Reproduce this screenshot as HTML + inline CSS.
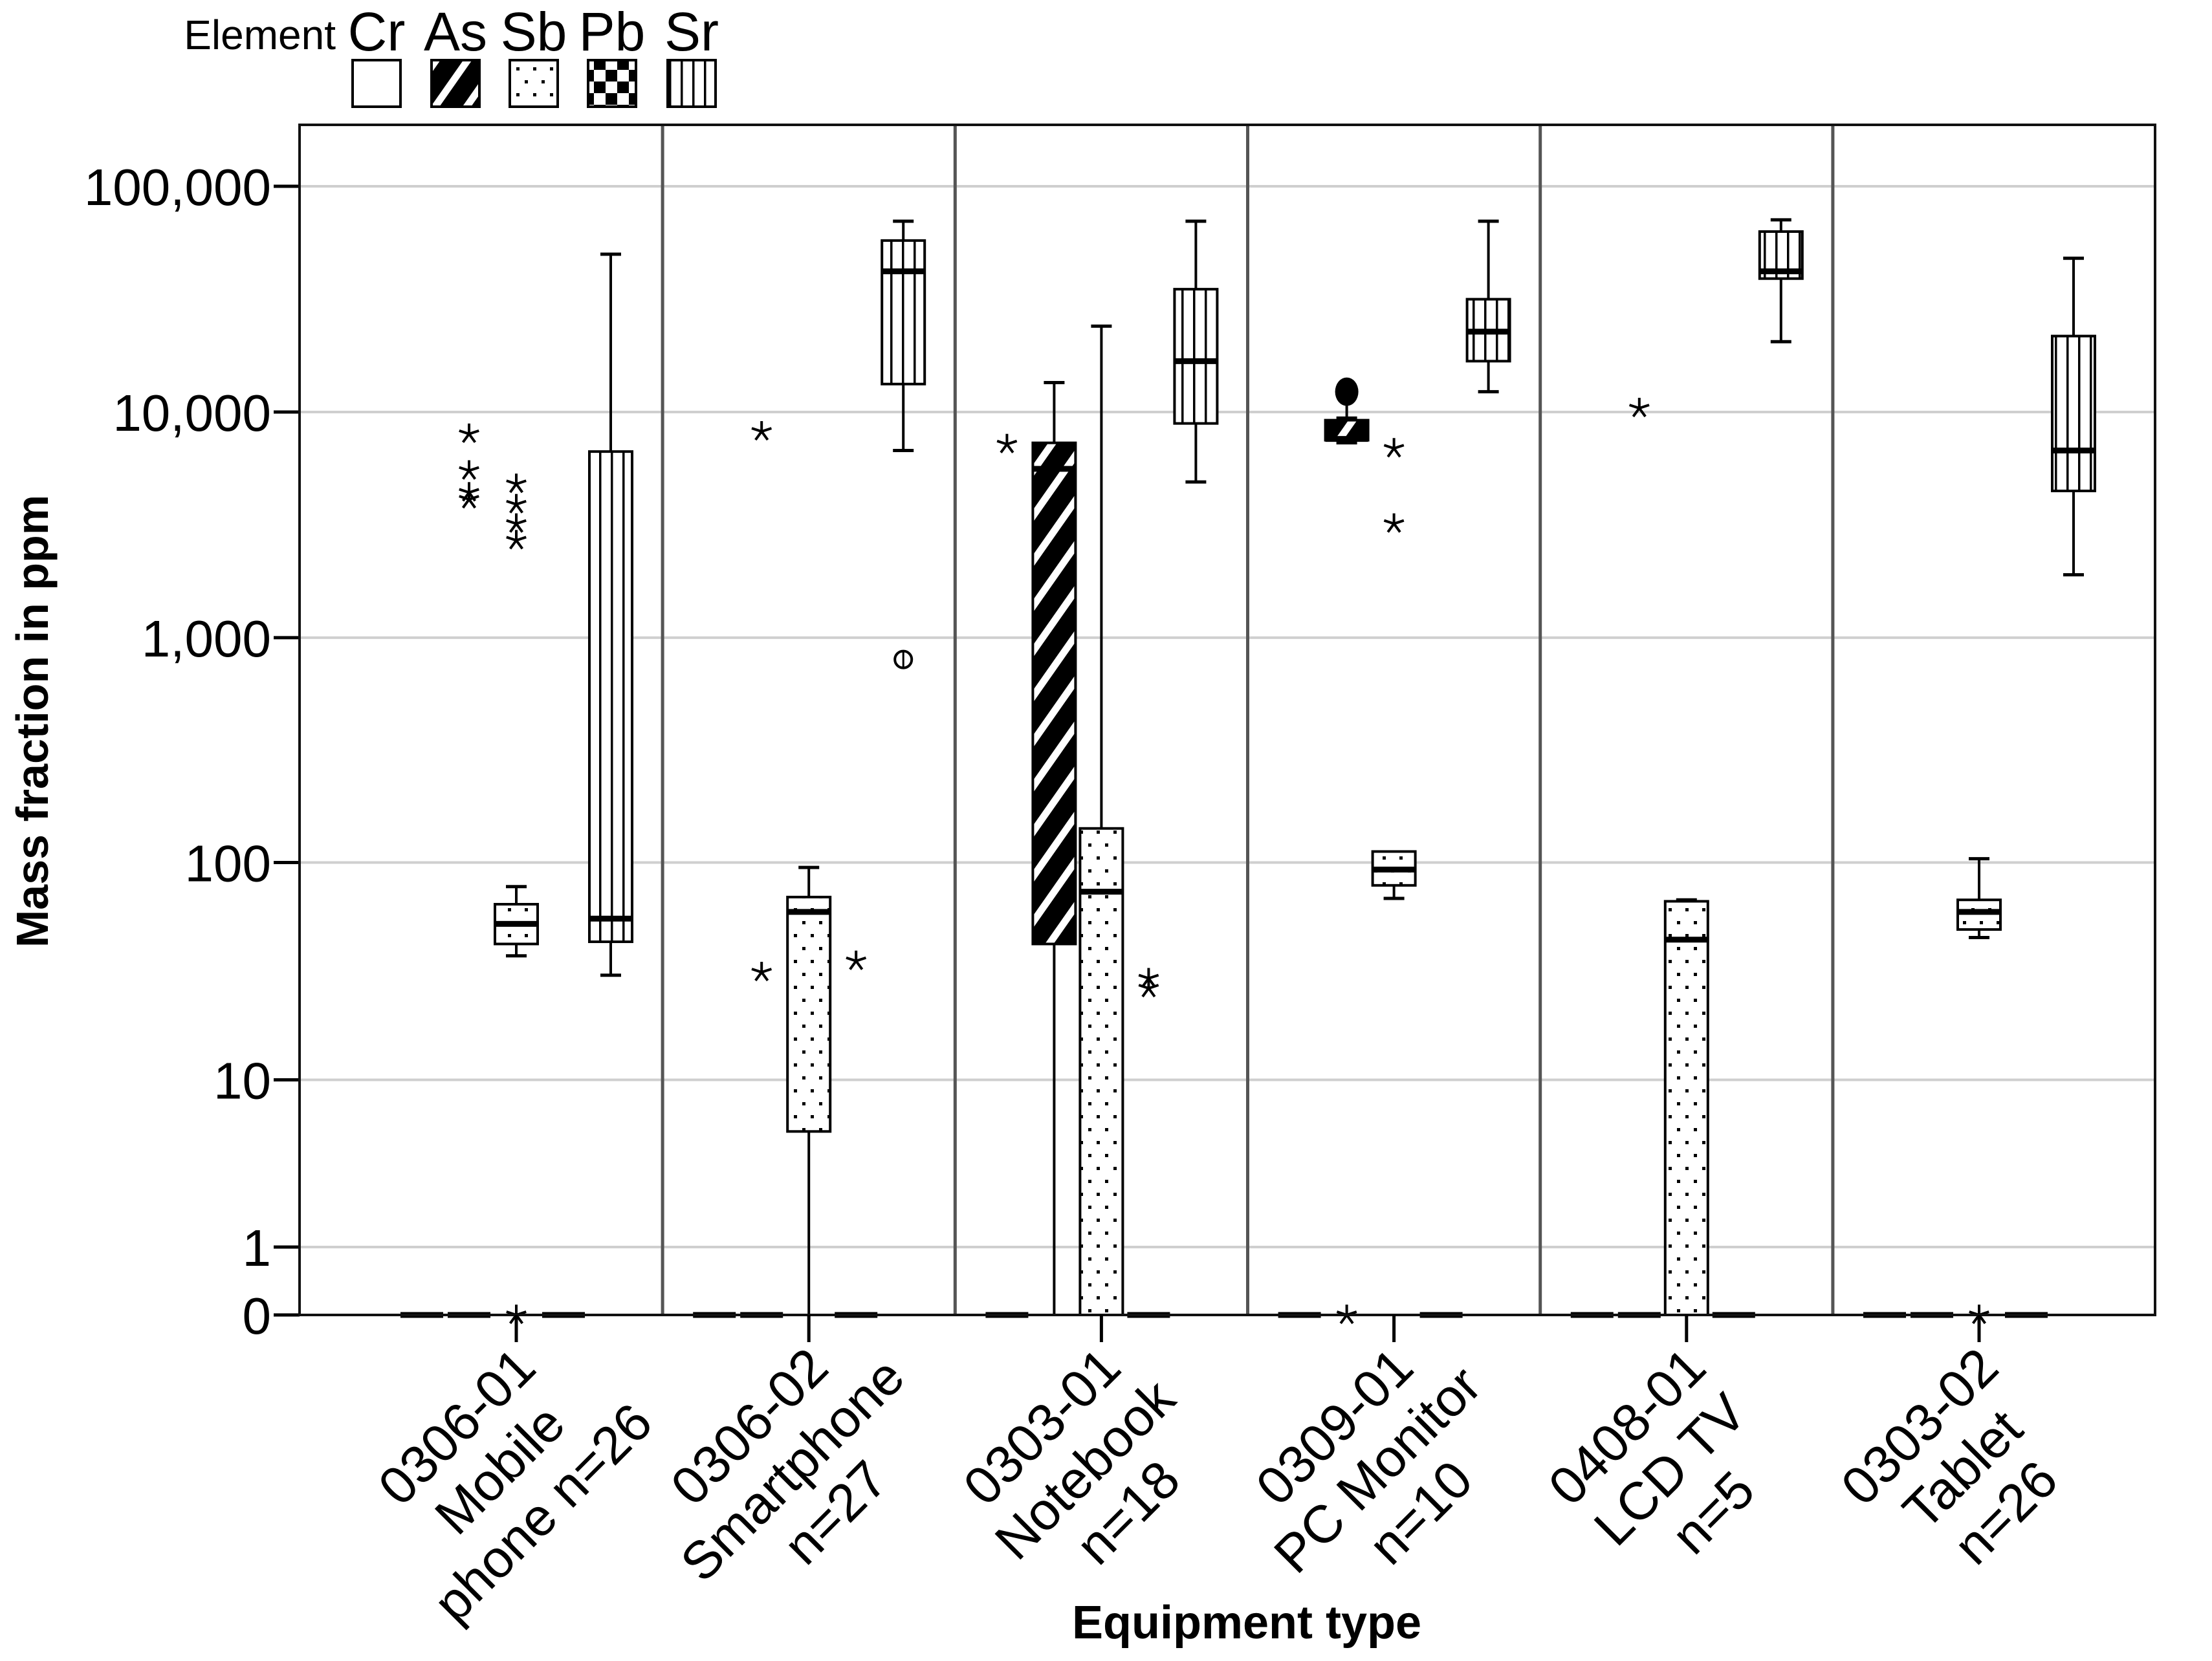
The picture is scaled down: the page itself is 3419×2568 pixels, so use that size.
<!DOCTYPE html>
<html><head><meta charset="utf-8"><style>
html,body{margin:0;padding:0;background:#fff;}
svg{display:block;font-family:"Liberation Sans",Arial,sans-serif;}
</style></head><body>
<svg id="chart" width="3419" height="2568" viewBox="0 0 3419 2568" xmlns="http://www.w3.org/2000/svg">
<defs>
<pattern id="pAs" patternUnits="userSpaceOnUse" width="40" height="40" patternTransform="rotate(35)">
<rect width="40" height="40" fill="#000"/><rect x="0" y="0" width="11" height="40" fill="#fff"/></pattern>
<pattern id="pSb" patternUnits="userSpaceOnUse" width="26" height="40">
<rect width="26" height="40" fill="#fff"/><rect x="5" y="4" width="5" height="5" fill="#000"/><rect x="18" y="24" width="5" height="5" fill="#000"/></pattern>
<pattern id="pPb" patternUnits="userSpaceOnUse" width="36" height="36">
<rect width="36" height="36" fill="#fff"/><rect width="18" height="18" fill="#000"/><rect x="18" y="18" width="18" height="18" fill="#000"/></pattern>
<pattern id="pSr" patternUnits="userSpaceOnUse" width="18" height="20">
<rect width="18" height="20" fill="#fff"/><rect x="8" width="3.5" height="20" fill="#000"/></pattern>
</defs>
<g id="grid"></g>
<g id="dividers"></g>
<g id="marks"></g>
<g id="axes"></g>
<g id="legend"></g>
<text x="0" y="0" transform="translate(74,1115) rotate(-90)" text-anchor="middle" font-weight="bold" font-size="70">Mass fraction in ppm</text>
<text x="1927" y="2533" text-anchor="middle" font-weight="bold" font-size="72">Equipment type</text>
</svg>
<script>
const categoryLabels = [["0306-01","Mobile","phone n=26"],["0306-02","Smartphone","n=27"],["0303-01","Notebook","n=18"],["0309-01","PC Monitor","n=10"],["0408-01","LCD TV","n=5"],["0303-02","Tablet","n=26"]];
const elements = ["Cr","As","Sb","Pb","Sr"];
const yTicks = [0,1,10,100,1000,10000,100000];
const yTickLabels = ["0","1","10","100","1,000","10,000","100,000"];
// [lowWhisker, q1, median, q3, highWhisker] per category
const crBoxes = [[0,0,0,0,0],[0,0,0,0,0],[0,0,0,0,0],[0,0,0,0,0],[0,0,0,0,0],[0,0,0,0,0]];
const asBoxes = [[0,0,0,0,0],[0,0,0,0,0],[0,43,5600,7300,13500],[7300,7500,7600,9200,9400],[0,0,0,0,0],[0,0,0,0,0]];
const sbBoxes = [[38,43,53,65,78],[0,5.5,60,70,95],[0,0,74,142,24000],[69,79,93,112,112],[0,0,45,67,68],[46,50,60,68,104]];
const pbBoxes = [[0,0,0,0,0],[0,0,0,0,0],[0,0,0,0,0],[0,0,0,0,0],[0,0,0,0,0],[0,0,0,0,0]];
const srBoxes = [[31,44,56,6680,50000],[6750,13300,42000,57500,70000],[4900,8900,16800,35000,70000],[12300,16800,22700,31600,70000],[20500,39000,42000,63000,71000],[1900,4470,6750,21700,48000]];
// [categoryIndex, elementIndex, value]
const starOutliers = [[0,1,8000],[0,1,5500],[0,1,4400],[0,1,4100],[0,2,4800],[0,2,3900],[0,2,3200],[0,2,2700],[0,2,0],[1,1,8200],[1,1,32],[1,3,36],[2,0,7200],[2,3,30],[2,3,27],[3,1,0],[3,2,6900],[3,2,3200],[4,1,10400],[5,2,0]];
const openCircleOutliers = [[1,4,800]];
const filledCircleOutliers = [[3,1,12300]];

const NS="http://www.w3.org/2000/svg";
const plotL=463, plotT=193, plotR=3331, y0=2033, decade=349;
const catX0=798, catStep=452.2, slot=73, boxW=66;
function yScale(v){return y0-decade*Math.log10(v+1);}
function xScale(c,e){return catX0+c*catStep+(e-2)*slot;}
function el(tag,attrs,parent){const n=document.createElementNS(NS,tag);for(const k in attrs)n.setAttribute(k,attrs[k]);parent.appendChild(n);return n;}
const grid=document.getElementById('grid'),divs=document.getElementById('dividers'),marks=document.getElementById('marks'),axes=document.getElementById('axes'),legend=document.getElementById('legend');

yTicks.forEach((t,i)=>{
  const y=yScale(t);
  if(t>0){const g=el('line',{x1:plotL,x2:plotR,y1:y,y2:y,stroke:'#cfcfcf','stroke-width':4},grid);
  
  }
  const tk=el('line',{x1:plotL-40,x2:plotL,y1:y,y2:y,stroke:'#000','stroke-width':5},axes);
  
  
  const tl=el('text',{x:419,y:y+29,'text-anchor':'end','font-size':80},axes);
  
  
  tl.textContent=yTickLabels[i];
});
for(let c=0;c<categoryLabels.length-1;c++){
  const x=catX0+(c+0.5)*catStep;
  const d=el('line',{x1:x,x2:x,y1:plotT,y2:y0,stroke:'#555','stroke-width':5},divs);
  
  
}
const frame=el('rect',{x:plotL,y:plotT,width:plotR-plotL,height:y0-plotT,fill:'none',stroke:'#111','stroke-width':4},axes);



const allBoxes=[crBoxes,asBoxes,sbBoxes,pbBoxes,srBoxes];
const fills=['#fff','url(#pAs)','url(#pSb)','url(#pPb)','url(#pSr)'];
allBoxes.forEach((arr,e)=>{
  arr.forEach((s,c)=>{
    const x=xScale(c,e);
    const g=el('g',{},marks);
    
    
    const [lo,q1,md,q3,hi]=s;
    if(hi===0){el('line',{x1:x-boxW/2,x2:x+boxW/2,y1:y0,y2:y0,stroke:'#000','stroke-width':9},g);return;}
    if(hi>q3){el('line',{x1:x,x2:x,y1:yScale(hi),y2:yScale(q3),stroke:'#000','stroke-width':4},g);
      el('line',{x1:x-16,x2:x+16,y1:yScale(hi),y2:yScale(hi),stroke:'#000','stroke-width':5},g);}
    if(lo<q1){el('line',{x1:x,x2:x,y1:yScale(q1),y2:yScale(lo),stroke:'#000','stroke-width':4},g);
      if(lo>0)el('line',{x1:x-16,x2:x+16,y1:yScale(lo),y2:yScale(lo),stroke:'#000','stroke-width':5},g);}
    el('rect',{x:x-boxW/2,y:yScale(q3),width:boxW,height:Math.max(yScale(q1)-yScale(q3),2),fill:fills[e],stroke:'#000','stroke-width':4},g);
    el('line',{x1:x-boxW/2,x2:x+boxW/2,y1:yScale(md),y2:yScale(md),stroke:'#000','stroke-width':9},g);
  });
});
for(let c=0;c<categoryLabels.length;c++){
  const x=catX0+c*catStep;
  const t=el('line',{x1:x,x2:x,y1:y0,y2:y0+42,stroke:'#000','stroke-width':5},axes);
  
  
  const tx=el('text',{transform:`translate(${x},${y0+10}) rotate(-45)`,'text-anchor':'middle','font-size':82},axes);
  
  
  categoryLabels[c].forEach((line,i)=>{const ts=el('tspan',{x:-180,y:78+i*94},tx);ts.textContent=line;});
}
function star(x,y){
  const g=el('g',{stroke:'#000','stroke-width':4},marks);
  
  
  for(let k=0;k<5;k++){const a=-Math.PI/2+k*2*Math.PI/5;el('line',{x1:x,y1:y,x2:x+16*Math.cos(a),y2:y+16*Math.sin(a)},g);}
}
starOutliers.forEach(o=>star(xScale(o[0],o[1]),yScale(o[2])));
openCircleOutliers.forEach(o=>{
  const x=xScale(o[0],o[1]),y=yScale(o[2]);
  const c=el('circle',{cx:x,cy:y,r:13,fill:'#fff',stroke:'#000','stroke-width':4},marks);
  
  
  el('line',{x1:x,x2:x,y1:y-13,y2:y+13,stroke:'#000','stroke-width':3},marks);
});
filledCircleOutliers.forEach(o=>{
  const x=xScale(o[0],o[1]),y=yScale(o[2]);
  el('line',{x1:x,x2:x,y1:y,y2:yScale(asBoxes[o[0]][3]),stroke:'#000','stroke-width':4},marks);
  const c=el('ellipse',{cx:x,cy:y,rx:18,ry:22,fill:'#000'},marks);
  
  
});
// legend
const lt=el('text',{x:519,y:76,'text-anchor':'end','font-size':64},legend);


lt.textContent='Element';
const legX=[582,704,825,946,1069];
elements.forEach((e,i)=>{
  const g=el('g',{},legend);
  
  
  const t=el('text',{x:legX[i],y:78,'text-anchor':'middle','font-size':84},g);t.textContent=e;
  el('rect',{x:legX[i]-37,y:93,width:74,height:72,fill:fills[i],stroke:'#000','stroke-width':4},g);
});
</script>
</body></html>
